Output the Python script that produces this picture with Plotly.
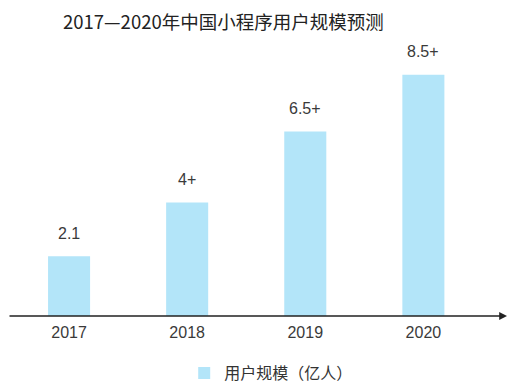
import plotly.graph_objects as go

years = ["2017", "2018", "2019", "2020"]
users = [2.1, 4.0, 6.5, 8.5]
value_labels = ["2.1", "4+", "6.5+", "8.5+"]
series_name = "用户规模（亿人）"
title = "2017—2020年中国小程序用户规模预测"

font_family = "Liberation Sans, Noto Sans CJK SC, sans-serif"
W, H = 510, 382  # page body has an 8px margin

fig = go.Figure()
fig.add_trace(go.Bar(
    x=list(range(len(years))),
    y=users,
    name=series_name,
    marker=dict(color="#b3e5f9", line=dict(width=0)),
    width=0.356,
    showlegend=True,
))

for i, (v, lab) in enumerate(zip(users, value_labels)):
    fig.add_annotation(
        x=i, y=v, xref="x", yref="y", text=lab, showarrow=False,
        yshift=23, yanchor="middle",
        font=dict(size=16, color="#3a3a3a", family=font_family),
    )

fig.update_layout(
    width=W, height=H,
    margin=dict(l=0, r=11, t=32, b=74, autoexpand=False),
    paper_bgcolor="white", plot_bgcolor="white",
    font=dict(family=font_family, color="#333333"),
    title=dict(text=title, x=55/W, xanchor="left", y=1-15/H, yanchor="middle",
               font=dict(size=18.5, color="#222222", family="Noto Sans CJK SC, sans-serif")),
    xaxis=dict(
        range=[-0.517, 3.708],
        tickmode="array",
        tickvals=list(range(len(years))),
        ticktext=years,
        showgrid=False, zeroline=False, showline=False,
        ticks="", tickfont=dict(size=16, color="#3a3a3a"),
        ticklabelstandoff=5,
        automargin=False,
        fixedrange=True,
    ),
    yaxis=dict(range=[0, 9.72], visible=False, fixedrange=True, automargin=False),
    legend=dict(
        orientation="h", x=269/W, xanchor="center",
        yref="container", y=1-365/H, yanchor="middle",
        font=dict(size=16, color="#333333", family="Noto Sans CJK SC, sans-serif"),
    ),
)

fig.add_annotation(
    x=1, y=0, xref="paper", yref="y",
    ax=-505, ay=0, axref="pixel", ayref="pixel",
    showarrow=True, arrowhead=2, arrowsize=1.2, arrowwidth=1.3, arrowcolor="#222222",
    text="",
)

fig.write_html("out.html")
